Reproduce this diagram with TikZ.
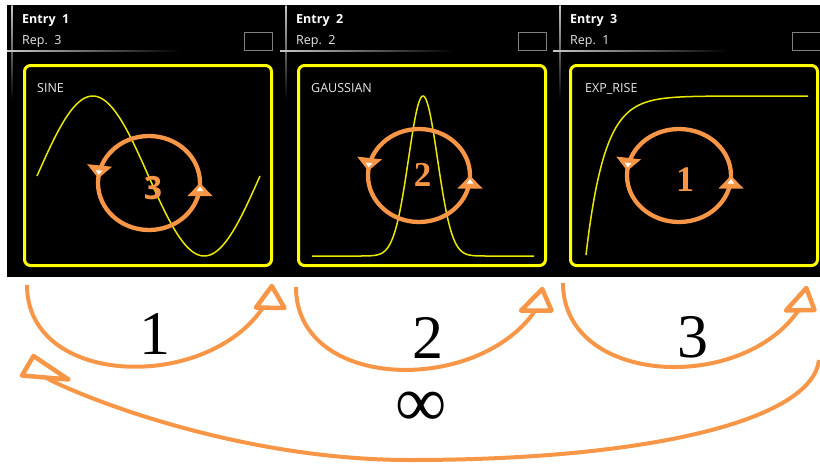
\documentclass[tikz,border=0pt]{standalone}
\usepackage{fontspec}
\setmainfont{Liberation Serif}
\newfontfamily\uifont{Open Sans}
\usepackage{xcolor}
\definecolor{looporange}{RGB}{247,150,70}
\definecolor{curveyellow}{RGB}{232,232,0}
\definecolor{boxyellow}{RGB}{255,255,0}
\definecolor{uigray}{RGB}{232,232,232}
\definecolor{sepgray}{RGB}{200,200,200}
\usetikzlibrary{
  positioning,
  decorations.markings
}
%% loop arrowhead, drawn in the path's own frame (x along the path)
\newcommand{\looptri}{%
  \fill[looporange] (0,0) -- (-13pt,12.5pt) -- (-13pt,-12.5pt) -- cycle;
  \fill[white] (-3.5pt,0) -- (-8pt,3.3pt) -- (-8pt,-3.3pt) -- cycle;}

\begin{document}
\begin{tikzpicture}[x=1pt, y=1pt,
  entrytxt/.style={text=white, font=\uifont\bfseries\fontsize{12.5}{14}\selectfont,
    anchor=base west, inner sep=0pt},
  reptxt/.style={text=uigray, font=\uifont\fontsize{12.5}{14}\selectfont,
    anchor=base west, inner sep=0pt},
  repbox/.style={draw=gray, line width=1pt, minimum width=28pt,
    minimum height=18pt, inner sep=0pt},
  plotlbl/.style={text=uigray, font=\uifont\fontsize{12.5}{14}\selectfont,
    anchor=base west, inner sep=0pt},
  plotbox/.style={draw=boxyellow, line width=3pt, rounded corners=6pt,
    minimum width=247pt, minimum height=200pt, inner sep=0pt},
  plotcurve/.style={curveyellow, line width=1.5pt},
  loopline/.style={looporange, line width=4.3pt, postaction={decorate},
    decoration={markings,
      mark=at position 0.25 with {\looptri},
      mark=at position 0.735 with {\looptri}}},
  loopnum/.style={text=looporange, inner sep=0pt},
  jumpline/.style={looporange, line width=4pt},
  jumphead/.style={fill=white, draw=looporange, line width=4.5pt, line join=round},
  bignum/.style={font=\fontsize{62}{62}\selectfont, inner sep=0pt}
]

  \useasboundingbox (0,0) rectangle (820,-464);

  %% Dark screen strip
  \fill[black] (7,-5) rectangle (820,-277);

  %% Header separators
  \shade[top color=sepgray, bottom color=black] (11.5,-5) rectangle (12.5,-100);
  \shade[top color=sepgray, bottom color=black] (285.5,-5) rectangle (286.5,-100);
  \shade[top color=sepgray, bottom color=black] (559.5,-5) rectangle (560.5,-100);
  \shade[left color=sepgray, right color=black] (7,-50.5) rectangle (180,-51.5);
  \shade[left color=sepgray, right color=black] (280,-50.5) rectangle (454,-51.5);
  \shade[left color=sepgray, right color=black] (553,-50.5) rectangle (728,-51.5);

  %% Entry headers
  \node[entrytxt] (entry1) at (22,-23) {Entry\ \ 1};
  \node[reptxt] (rep1) at (22,-44) {Rep.\ \ 3};
  \node[repbox] (rbox1) at (258,-41.5) {};

  \node[entrytxt] (entry2) at (296,-23) {Entry\ \ 2};
  \node[reptxt] (rep2) at (296,-44) {Rep.\ \ 2};
  \node[repbox] (rbox2) at (532,-41.5) {};

  \node[entrytxt] (entry3) at (570,-23) {Entry\ \ 3};
  \node[reptxt] (rep3) at (570,-44) {Rep.\ \ 1};
  \node[repbox] (rbox3) at (806,-41.5) {};

  %% Plot frames
  \node[plotbox] (box1) at (148,-165.5) {};
  \node[plotbox] (box2) at (422,-165.5) {};
  \node[plotbox] (box3) at (694,-165.5) {};

  \node[plotlbl] (lbl1) at (37,-92) {SINE};
  \node[plotlbl] (lbl2) at (311,-92) {GAUSSIAN};
  \node[plotlbl] (lbl3) at (585,-92) {EXP\_RISE};

  %% Waveforms
  \draw[plotcurve] plot[domain=37:260, samples=120]
    (\x, {-176+80*sin((\x-37)/223*360)});
  \draw[plotcurve] plot[domain=312:534, samples=200]
    (\x, {-256+160*exp(-((\x-423)*(\x-423))/420.5)});
  \draw[plotcurve] plot[domain=586:808, samples=150]
    (\x, {-96-159*exp(-(\x-586)/18.5)});

  %% Repetition loops
  \coordinate (c1) at (149,-183);
  \coordinate (c2) at (419,-175.5);
  \coordinate (c3) at (679,-175.5);
  \draw[loopline] ([yshift=-47pt]c1)
    arc[start angle=-90, end angle=270, x radius=51, y radius=47];
  \draw[loopline] ([yshift=-46.5pt]c2)
    arc[start angle=-90, end angle=270, x radius=51, y radius=46.5];
  \draw[loopline] ([yshift=-46.5pt]c3)
    arc[start angle=-90, end angle=270, x radius=52, y radius=46.5];

  \node[loopnum, font=\uifont\bfseries\fontsize{32}{32}\selectfont]
    (rnum1) at (153,-188.5) {3};
  \node[loopnum, font=\bfseries\fontsize{35}{35}\selectfont]
    (rnum2) at (422.5,-175) {2};
  \node[loopnum, font=\bfseries\fontsize{36}{36}\selectfont]
    (rnum3) at (685,-179.5) {1};

  %% Sequence arcs
  \coordinate (a1s) at (27,-285);
  \coordinate (a1e) at (262,-309);
  \coordinate (a2s) at (296,-287);
  \coordinate (a2e) at (535,-311);
  \coordinate (a3s) at (563,-283);
  \coordinate (a3e) at (798,-311);
  \draw[jumpline] (a1s) to[out=-90, in=-125, looseness=1.1] (a1e);
  \draw[jumpline] (a2s) to[out=-90, in=-125, looseness=1.1] (a2e);
  \draw[jumpline] (a3s) to[out=-90, in=-125, looseness=1.1] (a3e);

  %% Return arc
  \coordinate (a4s) at (819,-360);
  \coordinate (a4m) at (410,-460);
  \coordinate (a4e) at (48,-379);
  \draw[jumpline] (a4s) .. controls (812,-420) and (650,-460) .. (a4m)
    .. controls (250,-460) and (100,-405) .. (a4e);

  %% Arrowheads
  \filldraw[jumphead] (271.8,-286) -- (256,-307.5) -- (284.5,-308) -- cycle;
  \filldraw[jumphead] (542.3,-289) -- (521,-310.5) -- (551.5,-310.5) -- cycle;
  \filldraw[jumphead] (806.3,-288) -- (786,-310.5) -- (814.5,-310) -- cycle;
  \filldraw[jumphead] (33.5,-356) -- (22,-375.5) -- (68.5,-379.5) -- cycle;

  \node[bignum] (seq1) at (155,-334) {1};
  \node[bignum] (seq2) at (428,-338) {2};
  \node[bignum] (seq3) at (693,-337) {3};

  \node[font=\fontsize{72}{72}\selectfont, inner sep=0pt, anchor=base,
    text height=0.45em, text depth=0pt] (inf) at (421,-426) {∞};

\end{tikzpicture}
\end{document}
